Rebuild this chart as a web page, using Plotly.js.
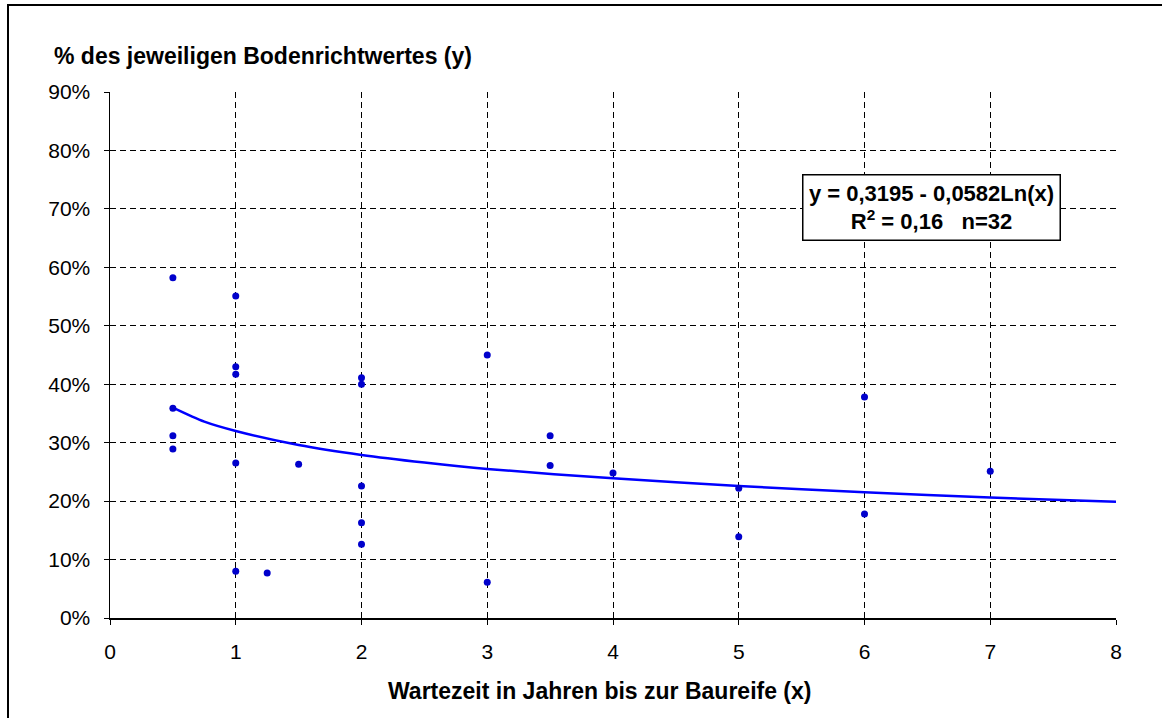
<!DOCTYPE html>
<html>
<head>
<meta charset="utf-8">
<script src="https://cdn.plot.ly/plotly-3.0.1.min.js"></script>
<style>
  html, body { margin: 0; padding: 0; background: #fff; }
  #chart { width: 1162px; height: 718px; }
</style>
</head>
<body>
<div id="chart"></div>
<script>
// Observed data (Wartezeit in Jahren, Anteil am Bodenrichtwert)
const waitYears = [0.5, 0.5, 0.5, 0.5, 1, 1, 1, 1, 1, 1.25, 1.5, 2, 2, 2, 2, 2, 3, 3, 3.5, 3.5, 4, 5, 5, 6, 6, 7];
const shareOfValue = [0.582, 0.359, 0.312, 0.289, 0.551, 0.430, 0.417, 0.265, 0.080, 0.077, 0.263, 0.411, 0.400, 0.226, 0.163, 0.126, 0.450, 0.061, 0.312, 0.261, 0.248, 0.222, 0.139, 0.378, 0.178, 0.251];

// Trend line (logarithmic)
const trendX = [0.5, 0.75, 1, 1.5, 2, 2.5, 3, 4, 5, 6, 7, 8];
const trendY = [0.360, 0.336, 0.320, 0.296, 0.279, 0.266, 0.255, 0.239, 0.226, 0.215, 0.206, 0.199];

const xTickVals = [0, 1, 2, 3, 4, 5, 6, 7, 8];
const yTickVals = [0, 0.1, 0.2, 0.3, 0.4, 0.5, 0.6, 0.7, 0.8, 0.9];

const yTitle = "% des jeweiligen Bodenrichtwertes (y)";
const xTitle = "Wartezeit in Jahren bis zur Baureife (x)";
const eqLine1 = "y = 0,3195 - 0,0582Ln(x)";
const eqLine2 = "R<sup>2</sup> = 0,16&nbsp;&nbsp;&nbsp;n=32";

const FONT = '"Liberation Sans", Arial, sans-serif';

const traces = [
  {
    x: trendX, y: trendY, type: 'scatter', mode: 'lines',
    line: { color: '#0000FF', width: 2.5, shape: 'spline', smoothing: 0.8 },
    hoverinfo: 'skip', showlegend: false
  },
  {
    x: waitYears, y: shareOfValue, type: 'scatter', mode: 'markers',
    marker: { color: '#0000CC', size: 7 },
    showlegend: false
  }
];

const L = 110, R = 46, T = 92, B = 100;
const W = 1162, H = 718;
const pw = W - L - R, ph = H - T - B;
const px2x = p => (p - L) / pw;
const px2y = p => (H - B - p) / ph;

const gridDash = '6px,4px';

const layout = {
  width: W, height: H,
  margin: { l: L, r: R, t: T, b: B },
  paper_bgcolor: '#fff', plot_bgcolor: '#fff',
  font: { family: FONT, size: 21, color: '#000' },
  showlegend: false,
  xaxis: {
    range: [0, 8], tickvals: xTickVals, ticktext: xTickVals.map(String),
    showgrid: true, gridcolor: '#000', gridwidth: 1, griddash: gridDash,
    zeroline: false, showline: true, linecolor: '#000', linewidth: 1.5,
    ticks: 'outside', ticklen: 5, tickcolor: '#000', tickwidth: 1,
    ticklabelstandoff: 9,
    tickfont: { family: FONT, size: 21, color: '#000' },
    fixedrange: true
  },
  yaxis: {
    range: [0, 0.9], tickvals: yTickVals, tickformat: '.0%',
    showgrid: true, gridcolor: '#000', gridwidth: 1, griddash: gridDash,
    zeroline: false, showline: true, linecolor: '#000', linewidth: 1.5,
    ticks: 'outside', ticklen: 5, tickcolor: '#000', tickwidth: 1,
    ticklabelstandoff: 9,
    tickfont: { family: FONT, size: 21, color: '#000' },
    fixedrange: true
  },
  annotations: [
    {
      xref: 'paper', yref: 'paper', x: px2x(52), y: px2y(56),
      xanchor: 'left', yanchor: 'middle', showarrow: false,
      text: '<b>' + yTitle + '</b>',
      font: { family: FONT, size: 23, color: '#000' }
    },
    {
      xref: 'paper', yref: 'paper', x: px2x(599), y: px2y(691),
      xanchor: 'center', yanchor: 'middle', showarrow: false,
      text: '<b>' + xTitle + '</b>',
      font: { family: FONT, size: 23, color: '#000' }
    },
    {
      xref: 'paper', yref: 'paper', x: px2x(931), y: px2y(207),
      xanchor: 'center', yanchor: 'middle', showarrow: false,
      text: '<b>' + eqLine1 + '</b><br><b>' + eqLine2 + '</b>',
      align: 'center',
      font: { family: FONT, size: 22, color: '#000' },
      bgcolor: '#fff', bordercolor: '#000', borderwidth: 1.5, borderpad: 5,
      width: 246
    }
  ],
  shapes: [
    {
      type: 'rect', xref: 'paper', yref: 'paper',
      x0: px2x(8), x1: px2x(1162 + 10), y0: px2y(718 + 10), y1: px2y(5),
      line: { color: '#000', width: 2 }, fillcolor: 'rgba(0,0,0,0)', layer: 'above'
    }
  ]
};

Plotly.newPlot('chart', traces, layout, { displayModeBar: false, staticPlot: true });
</script>
</body>
</html>
